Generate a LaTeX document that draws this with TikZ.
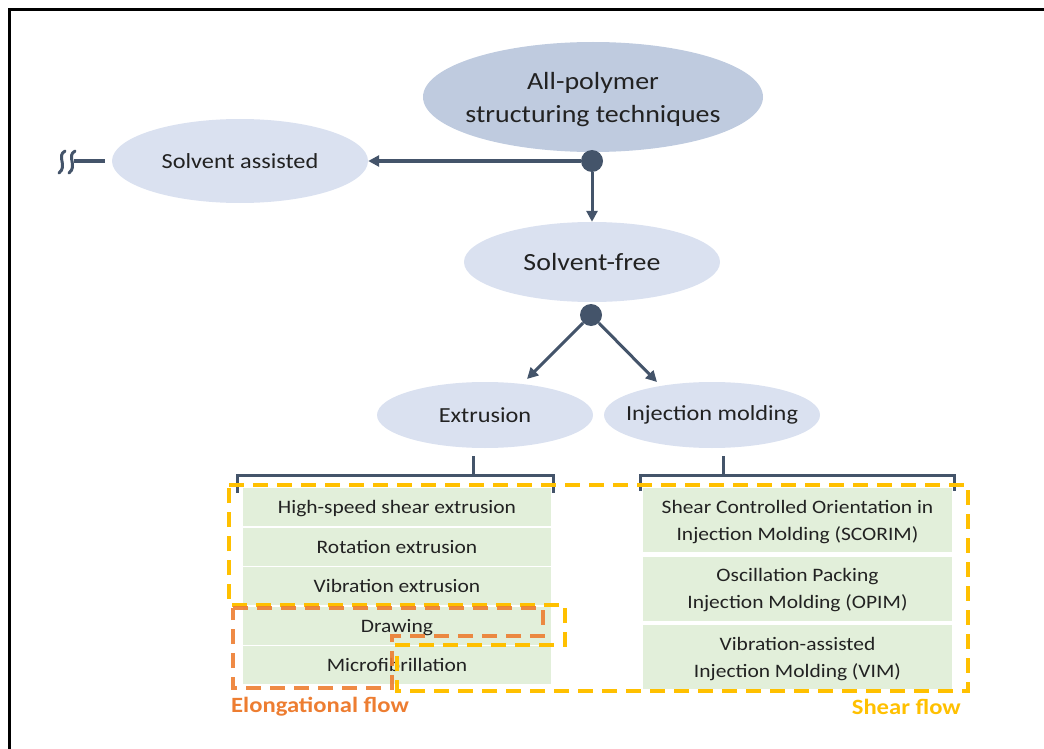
\documentclass[tikz,border=0pt]{standalone}
\usepackage{fontspec}
\setmainfont{Carlito}[FakeStretch=1.13]
\usetikzlibrary{shapes.geometric,arrows.meta,calc}
\definecolor{slate}{HTML}{44546A}
\definecolor{topfill}{HTML}{BFCBDF}
\definecolor{ovfill}{HTML}{DAE1F0}
\definecolor{boxfill}{HTML}{E2EFDA}
\definecolor{shearc}{HTML}{FFC000}
\definecolor{elongc}{HTML}{ED7D31}
\definecolor{ink}{HTML}{222222}
\begin{document}
\begin{tikzpicture}[x=1pt,y=-1pt,
  oval/.style={ellipse, fill=ovfill, inner xsep=-15pt, inner ysep=0pt, text=ink, align=center},
  dot/.style={circle, fill=slate, inner sep=0pt, minimum size=22pt},
  arr/.style={draw=slate, line width=3pt, -{Triangle[length=11pt,width=11pt]}},
  bracket/.style={draw=slate, line width=3pt},
  gbox/.style={rectangle, fill=boxfill, inner sep=0pt, text=ink, align=center, text depth=0pt,
    minimum width=308pt, font=\fontsize{19}{27}\selectfont},
  region/.style={line width=3.5pt, dash pattern=on 15pt off 9pt},
  flowlabel/.style={font=\bfseries\fontsize{21.8}{25}\selectfont, inner sep=0pt}
]
\useasboundingbox (0,0) rectangle (1044,749);

% frame along the top and left edges
\draw[line width=3pt] (1044,9.5) -- (9.5,9.5) -- (9.5,749);

% hierarchy of techniques
\node[oval, fill=topfill, minimum width=340pt, minimum height=110pt, text depth=0pt,
  font=\fontsize{24.7}{33}\selectfont] (top) at (593,97) {All-polymer\\structuring techniques};
\node[oval, minimum width=256pt, minimum height=84pt,
  font=\fontsize{21.5}{26}\selectfont] (sa) at (240,161) {Solvent assisted};
\node[dot] (d1) at (592,161) {};
\node[oval, minimum width=256pt, minimum height=80pt,
  font=\fontsize{24.7}{30}\selectfont] (sf) at (592,262) {Solvent-free};
\node[dot] (d2) at (591,315) {};
\node[oval, minimum width=216pt, minimum height=66pt,
  font=\fontsize{21.5}{26}\selectfont] (ext) at (485,415) {Extrusion};
\node[oval, minimum width=216pt, minimum height=66pt,
  font=\fontsize{21.5}{26}\selectfont] (inj) at (712,415) {Injection molding};

\draw[arr] (d1) -- (sa);
\draw[arr] (d1) -- (sf);
\coordinate (te) at (527,379);
\coordinate (ti) at (657,382);
\draw[arr] (d2) -- (te);
\draw[arr] (d2) -- (ti);

% break mark on the solvent-assisted branch
\coordinate (brk) at (74,161);
\draw[slate, line width=3pt] ($(sa.west)+(-7,0)$) -- (brk);
\foreach \bx in {62,72}{
  \draw[slate, line width=3pt, line cap=round]
    (\bx+3,151) .. controls (\bx-6,156) and (\bx+6,166) .. (\bx-3,173);
}

% extrusion methods
\node[gbox, minimum height=38pt] (hs) at (397,507) {High-speed shear extrusion};
\node[gbox, minimum height=38pt] (re) at (397,546.5) {Rotation extrusion};
\node[gbox, minimum height=38pt] (ve) at (397,586) {Vibration extrusion};
\node[gbox, minimum height=38pt] (dr) at (397,625.5) {Drawing};
\node[gbox, minimum height=38pt] (mf) at (397,665) {Microfibrillation};

% injection molding methods
\node[gbox, minimum width=309pt, minimum height=64pt] (sc) at (797.5,520) {Shear Controlled Orientation in\\Injection Molding (SCORIM)};
\node[gbox, minimum width=309pt, minimum height=64pt] (op) at (797.5,588.5) {Oscillation Packing\\Injection Molding (OPIM)};
\node[gbox, minimum width=309pt, minimum height=64pt] (vi) at (797.5,657) {Vibration-assisted\\Injection Molding (VIM)};

% brackets
\draw[bracket] (237,493) -- (237,475) -- (553,475) -- (553,493);
\draw[bracket] (473,456) -- (473,475);
\draw[bracket] (640,491) -- (640,475) -- (954,475) -- (954,491);
\draw[bracket] (723,456) -- (723,475);

% flow regions
\draw[region, draw=shearc] (229,485) -- (968,485) -- (968,691) -- (397,691) -- (397,645)
  -- (565,645) -- (565,605) -- (229,605) -- cycle;
\draw[region, draw=elongc, draw opacity=0.9] (233,608) -- (543,608) -- (543,636) -- (392,636)
  -- (392,688) -- (233,688) -- cycle;

\node[flowlabel, text=elongc, anchor=west] (el) at (231,707) {Elongational flow};
\node[flowlabel, text=shearc, anchor=east] (sh) at (961,707) {Shear flow};
\end{tikzpicture}
\end{document}
